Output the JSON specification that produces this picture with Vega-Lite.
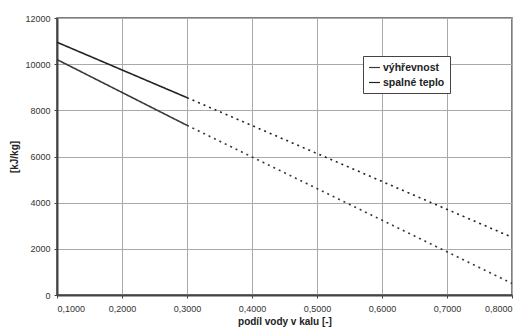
{
  "$schema": "https://vega.github.io/schema/vega-lite/v6.json",
  "width": 455,
  "height": 277,
  "autosize": "none",
  "padding": {"left": 57, "top": 18, "right": 16, "bottom": 32},
  "background": "white",
  "config": {
    "font": "Liberation Sans",
    "view": {"stroke": "#555", "strokeWidth": 1.5}
  },
  "data": {
    "values": [
      {"x": 0.1, "y": 10950, "series": "spalné teplo", "seg": "solid"},
      {"x": 0.3, "y": 8550, "series": "spalné teplo", "seg": "solid"},
      {"x": 0.3, "y": 8550, "series": "spalné teplo", "seg": "dotted"},
      {"x": 0.8, "y": 2500, "series": "spalné teplo", "seg": "dotted"},
      {"x": 0.1, "y": 10200, "series": "výhřevnost", "seg": "solid"},
      {"x": 0.3, "y": 7350, "series": "výhřevnost", "seg": "solid"},
      {"x": 0.3, "y": 7350, "series": "výhřevnost", "seg": "dotted"},
      {"x": 0.8, "y": 500, "series": "výhřevnost", "seg": "dotted"}
    ]
  },
  "mark": {"type": "line", "strokeWidth": 1.6},
  "encoding": {
    "x": {
      "field": "x", "type": "quantitative",
      "scale": {"domain": [0.1, 0.8], "nice": false, "zero": false},
      "axis": {
        "values": [0.1, 0.2, 0.3, 0.4, 0.5, 0.6, 0.7, 0.8],
        "labelExpr": "replace(format(datum.value, '.4f'), '.', ',')",
        "title": "podíl vody v kalu [-]",
        "titleFontWeight": "bold", "titleFontSize": 10, "titleColor": "#222", "titlePadding": 3,
        "labelFontSize": 9, "labelColor": "#333", "labelPadding": 6,
        "gridColor": "#aaa", "gridWidth": 1, "gridOpacity": 1,
        "domainColor": "#444", "domainWidth": 2,
        "tickColor": "#444", "tickSize": 3
      }
    },
    "y": {
      "field": "y", "type": "quantitative",
      "scale": {"domain": [0, 12000], "nice": false},
      "axis": {
        "values": [0, 2000, 4000, 6000, 8000, 10000, 12000],
        "format": "d",
        "title": "[kJ/kg]",
        "titleFontWeight": "bold", "titleFontSize": 10, "titleColor": "#222", "titlePadding": 5,
        "labelFontSize": 9, "labelColor": "#333", "labelPadding": 4,
        "gridColor": "#aaa", "gridWidth": 1, "gridOpacity": 1,
        "domainColor": "#444", "domainWidth": 2,
        "tickColor": "#444", "tickSize": 3
      }
    },
    "color": {
      "field": "series", "type": "nominal",
      "scale": {"domain": ["výhřevnost", "spalné teplo"], "range": ["#3a3a3a", "#222222"]},
      "legend": {
        "title": null,
        "orient": "none",
        "legendX": 306,
        "legendY": 38,
        "direction": "vertical",
        "fillColor": "white",
        "strokeColor": "#444",
        "padding": 5,
        "symbolType": "stroke",
        "symbolStrokeWidth": 1.2,
        "symbolSize": 120,
        "labelFontSize": 10.5,
        "labelFontWeight": "bold",
        "labelColor": "#222",
        "rowPadding": 3,
        "labelOffset": 2
      }
    },
    "strokeDash": {
      "field": "seg", "type": "nominal",
      "scale": {"domain": ["solid", "dotted"], "range": [[1, 0], [2, 4]]},
      "legend": null
    },
    "detail": {"field": "seg"}
  }
}
